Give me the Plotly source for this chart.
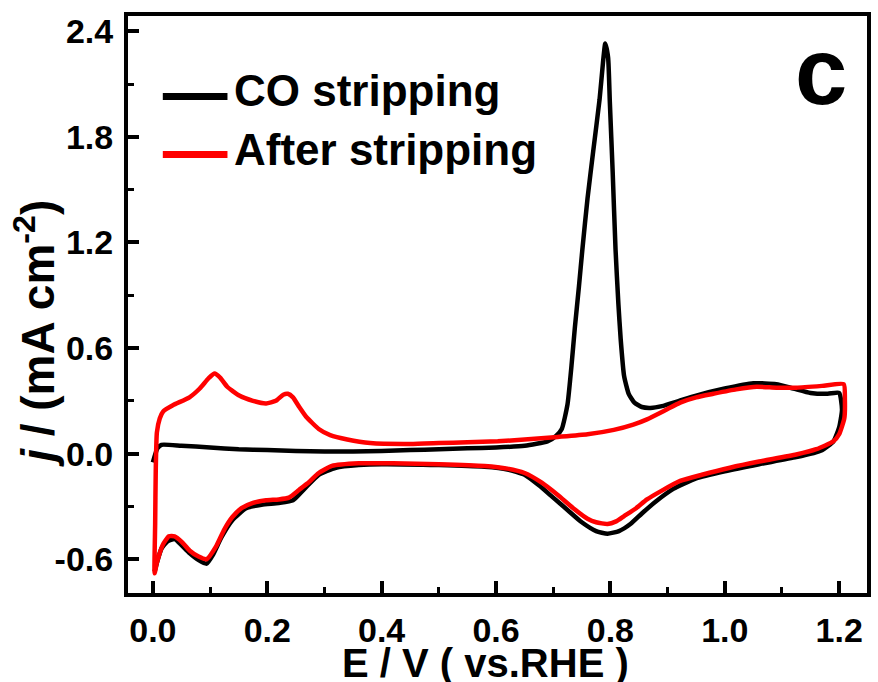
import plotly.graph_objects as go

# ---------------- data ----------------
# CO stripping (black): anodic scan then cathodic scan
co_E = [0.000, 0.008, 0.015, 0.05, 0.10, 0.15, 0.20, 0.25, 0.30, 0.35, 0.40, 0.45, 0.50,
        0.55, 0.60, 0.65, 0.69, 0.705, 0.715, 0.725, 0.732, 0.738, 0.745, 0.751, 0.76,
        0.77, 0.781, 0.787, 0.791, 0.796, 0.799, 0.804, 0.809, 0.814, 0.818, 0.824,
        0.832, 0.842, 0.855, 0.87, 0.89, 0.92, 0.95, 1.00, 1.05, 1.09, 1.12, 1.15,
        1.18, 1.20,
        1.205, 1.20, 1.19, 1.17, 1.125, 1.06, 1.00, 0.95, 0.91, 0.88, 0.855, 0.835,
        0.815, 0.795, 0.775, 0.75, 0.725, 0.70, 0.675, 0.65, 0.62, 0.58, 0.50, 0.40,
        0.36, 0.32, 0.29, 0.265, 0.245, 0.22, 0.19, 0.163, 0.14, 0.12, 0.105, 0.094,
        0.08, 0.064, 0.05, 0.038, 0.025, 0.015, 0.007, 0.003]
co_j = [-0.05, 0.03, 0.05, 0.045, 0.035, 0.025, 0.02, 0.015, 0.012, 0.012, 0.015, 0.02, 0.025,
        0.03, 0.035, 0.045, 0.07, 0.10, 0.14, 0.28, 0.50, 0.72, 0.95, 1.16, 1.45,
        1.72, 2.01, 2.22, 2.33, 2.25, 2.00, 1.60, 1.16, 0.85, 0.65, 0.44,
        0.34, 0.29, 0.265, 0.26, 0.27, 0.30, 0.33, 0.37, 0.40, 0.395, 0.37, 0.345,
        0.34, 0.345,
        0.25, 0.15, 0.07, 0.02, -0.02, -0.06, -0.10, -0.14, -0.20, -0.27, -0.34, -0.40,
        -0.44, -0.455, -0.44, -0.39, -0.32, -0.25, -0.18, -0.12, -0.09, -0.075, -0.065, -0.06,
        -0.065, -0.08, -0.12, -0.20, -0.265, -0.28, -0.29, -0.31, -0.375, -0.475, -0.575, -0.625,
        -0.605, -0.565, -0.52, -0.485, -0.50, -0.54, -0.62, -0.67]

# After stripping (red)
after_E = [0.003, 0.004, 0.005, 0.007, 0.012, 0.018, 0.035, 0.064, 0.082, 0.098, 0.108,
           0.118, 0.13, 0.151, 0.175, 0.198, 0.215, 0.228, 0.236, 0.245, 0.255, 0.268,
           0.29, 0.31, 0.34, 0.38, 0.45, 0.50, 0.55, 0.603, 0.65, 0.708, 0.76, 0.806,
           0.84, 0.864, 0.895, 0.922, 0.95, 0.98, 1.02, 1.056, 1.09, 1.125, 1.17, 1.208,
           1.21, 1.209, 1.20, 1.19, 1.16, 1.125, 1.06, 1.009, 0.96, 0.922, 0.89, 0.864,
           0.845, 0.824, 0.81, 0.795, 0.775, 0.76, 0.735, 0.708, 0.68, 0.65, 0.62, 0.58,
           0.50, 0.42, 0.36, 0.313, 0.29, 0.27, 0.256, 0.238, 0.22, 0.198, 0.175, 0.155,
           0.139, 0.125, 0.11, 0.094, 0.08, 0.064, 0.05, 0.038, 0.028, 0.017, 0.007, 0.003]
after_j = [-0.68, -0.40, -0.10, 0.12, 0.20, 0.24, 0.275, 0.32, 0.37, 0.43, 0.455,
           0.43, 0.38, 0.33, 0.30, 0.285, 0.30, 0.335, 0.34, 0.32, 0.27, 0.21,
           0.14, 0.105, 0.08, 0.06, 0.055, 0.06, 0.065, 0.07, 0.08, 0.095, 0.11, 0.135,
           0.165, 0.195, 0.245, 0.29, 0.32, 0.34, 0.365, 0.38, 0.375, 0.375, 0.385, 0.395,
           0.31, 0.20, 0.11, 0.07, 0.025, -0.005, -0.045, -0.08, -0.12, -0.155, -0.21, -0.26,
           -0.31, -0.355, -0.385, -0.40, -0.39, -0.37, -0.31, -0.235, -0.165, -0.11, -0.085, -0.07,
           -0.06, -0.055, -0.055, -0.07, -0.11, -0.17, -0.205, -0.25, -0.26, -0.265, -0.28, -0.31,
           -0.36, -0.43, -0.53, -0.60, -0.585, -0.55, -0.50, -0.47, -0.47, -0.52, -0.62, -0.68]

x_tickvals = [0.0, 0.2, 0.4, 0.6, 0.8, 1.0, 1.2]
x_ticktext = ["0.0", "0.2", "0.4", "0.6", "0.8", "1.0", "1.2"]
y_tickvals = [-0.6, 0.0, 0.6, 1.2, 1.8, 2.4]
y_ticktext = ["-0.6", "0.0", "0.6", "1.2", "1.8", "2.4"]

series_names = ["CO stripping", "After stripping"]
series_colors = ["#000000", "#ff0000"]

FONT = "Liberation Sans, Arial, Helvetica, sans-serif"

fig = go.Figure()
fig.add_trace(go.Scatter(x=co_E, y=co_j, mode="lines", name=series_names[0],
                         line=dict(color=series_colors[0], width=4.5, shape="spline", smoothing=0.5),
                         showlegend=False))
fig.add_trace(go.Scatter(x=after_E, y=after_j, mode="lines", name=series_names[1],
                         line=dict(color=series_colors[1], width=4.5, shape="spline", smoothing=0.5),
                         showlegend=False))

axis_common = dict(
    showline=True, linecolor="black", linewidth=4, mirror=True,
    ticks="inside", tickcolor="black", tickwidth=3.5,
    showgrid=False, zeroline=False,
    tickfont=dict(family=FONT, size=34, color="black", weight="bold"),
)

fig.update_xaxes(range=[-0.0435, 1.2487], tickvals=x_tickvals, ticktext=x_ticktext,
                 ticklen=12, ticklabelstandoff=4,
                 minor=dict(ticks="inside", ticklen=6, tickwidth=3, tickcolor="black",
                            tick0=0.1, dtick=0.2),
                 **axis_common)
fig.update_yaxes(range=[-0.7918, 2.4865], tickvals=y_tickvals, ticktext=y_ticktext,
                 ticklen=11, ticklabelstandoff=4,
                 minor=dict(ticks="inside", ticklen=6, tickwidth=3, tickcolor="black",
                            tick0=0.3, dtick=0.6),
                 **axis_common)

annotations = [
    dict(text="E / V ( vs.RHE )", xref="paper", yref="paper", x=0.4832, y=-0.121,
         xanchor="center", yanchor="middle", showarrow=False,
         font=dict(family=FONT, size=40, color="black", weight="bold")),
    dict(text="<i>j</i> / (mA cm<sup>-2</sup>)", xref="paper", yref="paper", x=-0.1252, y=0.45,
         xanchor="center", yanchor="middle", textangle=-90, showarrow=False,
         font=dict(family=FONT, size=46, color="black", weight="bold")),
    dict(text="c", xref="paper", yref="paper", x=0.938, y=0.9037,
         xanchor="center", yanchor="middle", showarrow=False,
         font=dict(family=FONT, size=94, color="black", weight="bold")),
]
legend_y_line = [0.8604, 0.7598]
legend_y_text = [0.8708, 0.7684]
shapes = []
for name, col, yl, yt in zip(series_names, series_colors, legend_y_line, legend_y_text):
    shapes.append(dict(type="line", xref="paper", yref="paper", x0=0.0471, x1=0.1346,
                       y0=yl, y1=yl, line=dict(color=col, width=7)))
    annotations.append(dict(text=name, xref="paper", yref="paper", x=0.1413, y=yt,
                            xanchor="left", yanchor="middle", showarrow=False,
                            font=dict(family=FONT, size=44, color="black", weight="bold")))

fig.update_layout(
    width=878, height=682,
    margin=dict(l=128, r=7, t=16, b=89),
    paper_bgcolor="white", plot_bgcolor="white",
    showlegend=False,
    annotations=annotations, shapes=shapes,
)

fig.write_html("out.html")
